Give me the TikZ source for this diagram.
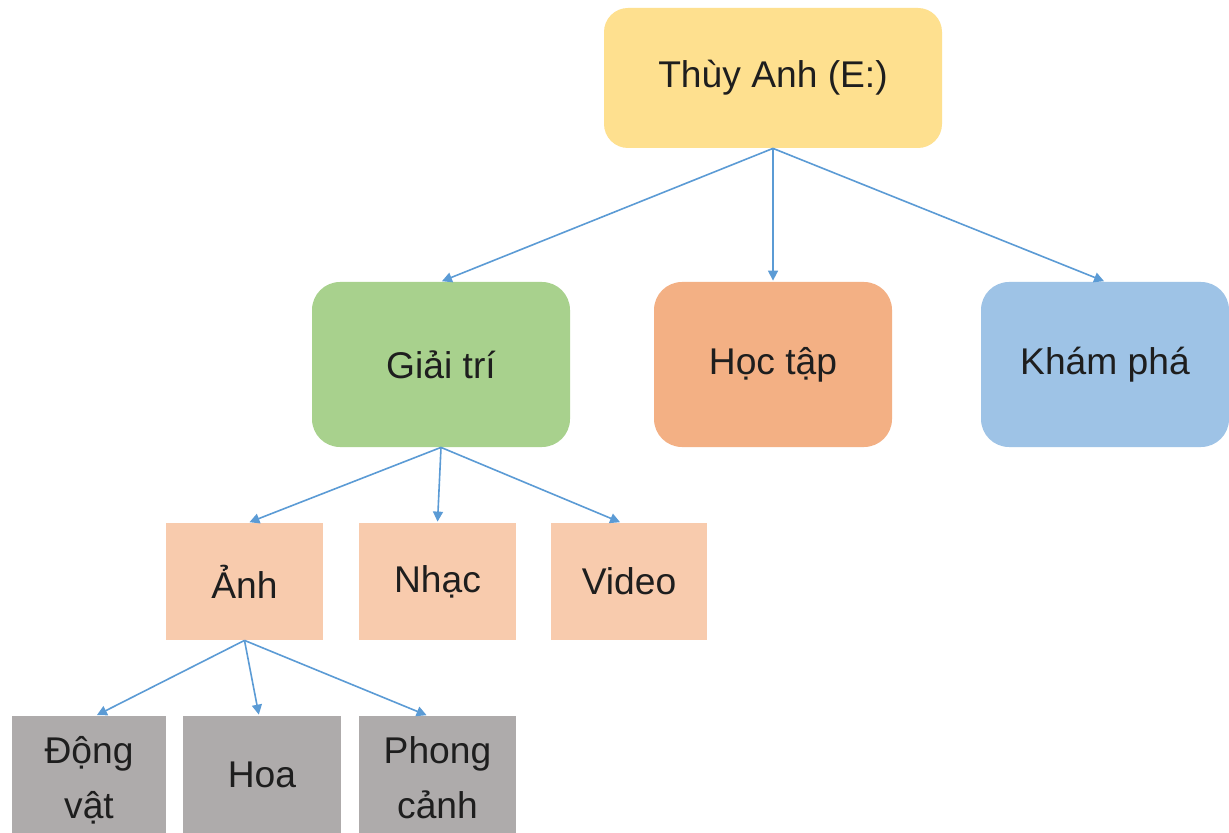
\documentclass[tikz,border=0pt]{standalone}
\usepackage{fontspec}
\setmainfont{Liberation Sans}
\usetikzlibrary{arrows.meta,calc}
\definecolor{cyellow}{HTML}{FEE08F}
\definecolor{cgreen}{HTML}{A8D18D}
\definecolor{corange}{HTML}{F3B084}
\definecolor{cblue}{HTML}{9EC3E6}
\definecolor{cpeach}{HTML}{F8CBAD}
\definecolor{cgray}{HTML}{AEABAB}
\definecolor{carrow}{HTML}{5B9BD5}
\definecolor{ctext}{HTML}{1E1E1E}
\tikzset{
  box/.style={draw=none, align=center, text=ctext, inner sep=0pt,
    font=\fontsize{18.6}{27.5}\selectfont},
  rbox/.style={box, rounded corners=14pt},
  sbox/.style={box, font=\fontsize{18.6}{27.5}\selectfont},
  conn/.style={draw=carrow, line width=0.8pt, -{Triangle[length=5pt,width=5pt]}, shorten >=0.5pt}
}
\begin{document}
\begin{tikzpicture}[x=0.5pt,y=-0.5pt]
\useasboundingbox (0,0) rectangle (1229,833);
\fill[white] (0,0) rectangle (1229,833);
\node[rbox, fill=cyellow, minimum width=169pt, minimum height=70pt, rounded corners=12pt, font=\fontsize{18.6}{22}\selectfont] (root) at (773,78) {Thùy Anh (E:)};
\node[rbox, fill=cgreen, minimum width=129pt, minimum height=82.5pt] (gt) at (441,364.5) {Giải trí};
\node[rbox, fill=corange, minimum width=119pt, minimum height=82.5pt] (ht) at (773,364.5) {Học tập};
\node[rbox, fill=cblue, minimum width=124pt, minimum height=82.5pt] (kp) at (1105,364.5) {Khám phá};
\node[sbox, fill=cpeach, minimum width=78.5pt, minimum height=58.5pt] (anh) at (244.5,581.5) {Ảnh};
\node[sbox, fill=cpeach, minimum width=78.5pt, minimum height=58.5pt] (nhac) at (437.5,581.5) {Nhạc};
\node[sbox, fill=cpeach, minimum width=78pt, minimum height=58.5pt] (video) at (629,581.5) {Video};
\node[sbox, fill=cgray, minimum width=77pt, minimum height=58.5pt] (dv) at (89,774.5) {};
\node[sbox, anchor=center] (dvt) at (89,780) {Động\\vật};
\node[sbox, fill=cgray, minimum width=79pt, minimum height=58.5pt] (hoa) at (262,774.5) {Hoa};
\node[sbox, fill=cgray, minimum width=78.5pt, minimum height=58.5pt] (pc) at (437.5,774.5) {};
\node[sbox, anchor=center] (pct) at (437.5,778) {Phong\\cảnh};
\draw[conn] (root.south) -- (gt.north);
\draw[conn] (root.south) -- (ht.north);
\draw[conn] (root.south) -- (kp.north);
\draw[conn] (gt.south) -- ($(anh.north)+(4,0)$);
\draw[conn] (gt.south) -- (nhac.north);
\draw[conn] (gt.south) -- ($(video.north)+(-8,0)$);
\draw[conn] (anh.south) -- ($(dv.north)+(7,0)$);
\draw[conn] (anh.south) -- ($(hoa.north)+(-3,0)$);
\draw[conn] (anh.south) -- ($(pc.north)+(-10,0)$);
\end{tikzpicture}
\end{document}
